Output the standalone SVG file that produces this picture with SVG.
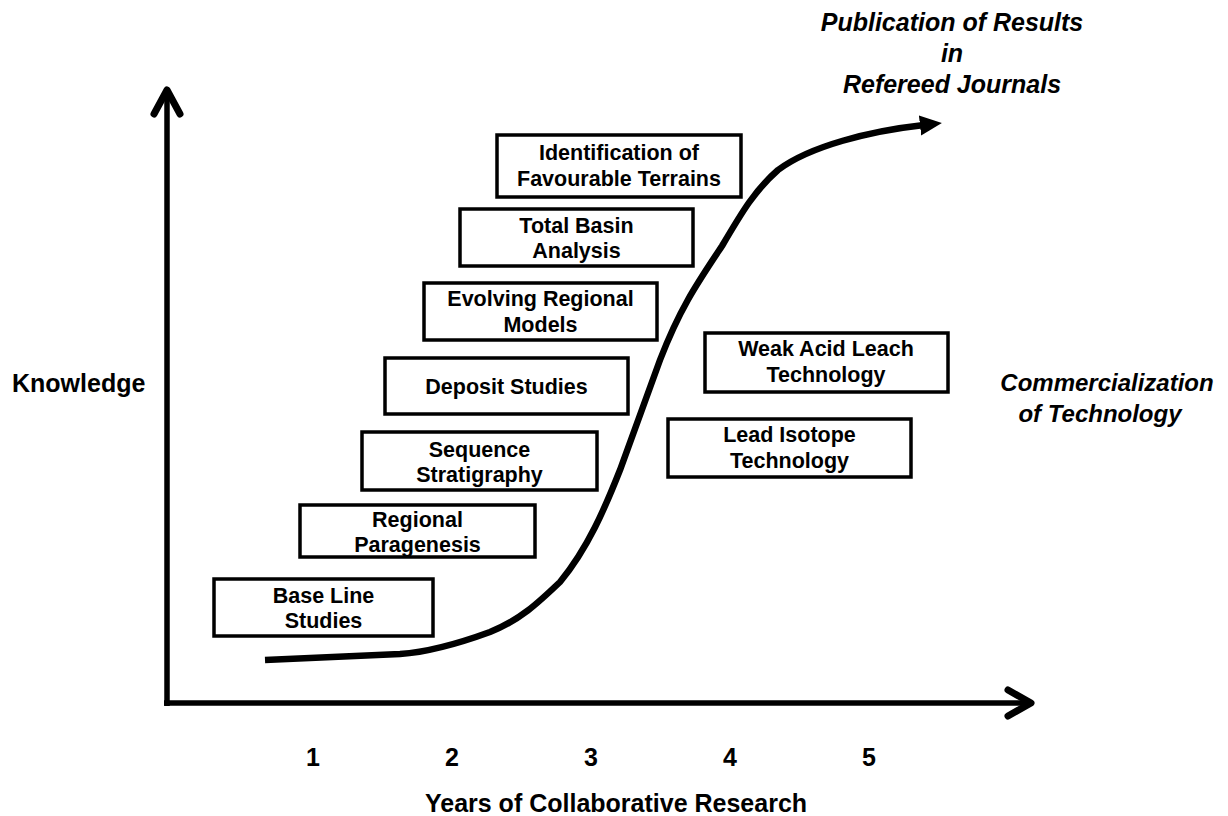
<svg xmlns="http://www.w3.org/2000/svg" width="1228" height="816" viewBox="0 0 1228 816">
<style>
.box{fill:#fff;stroke:#000;stroke-width:3.5}
.bt{font-family:"Liberation Sans",Arial,sans-serif;font-weight:bold;font-size:21.5px;text-anchor:middle;fill:#000}
.lab{font-family:"Liberation Sans",Arial,sans-serif;font-weight:bold;font-size:25px;fill:#000}
.it{font-family:"Liberation Sans",Arial,sans-serif;font-weight:bold;font-style:italic;font-size:24px;text-anchor:middle;fill:#000}
.pub{font-size:25px}
.axis{fill:none;stroke:#000;stroke-width:5.5}
.head{fill:none;stroke:#000;stroke-width:7;stroke-linecap:round;stroke-linejoin:round}
.curve{fill:none;stroke:#000;stroke-width:6.5}
</style>
<defs>
<marker id="tri" markerUnits="userSpaceOnUse" markerWidth="24" markerHeight="24" refX="4" refY="10" orient="auto" viewBox="0 0 24 20">
<path d="M0,0 L22,10 L0,20 Z" fill="#000"/>
</marker>
</defs>
<rect width="1228" height="816" fill="#fff"/>
<g id="connectors">
<line class="axis" x1="167" y1="92" x2="167" y2="706"/>
<polyline class="head" points="154,114 167,90 180,114"/>
<line class="axis" x1="164" y1="703" x2="1030" y2="703"/>
<polyline class="head" points="1008,690 1031,703 1008,716"/>
<path class="curve" marker-end="url(#tri)" d="M265,660 L400,654 C430,652 460,643 490,632 C520,620 538,603 560,582 C588,548 605,508 620,470 L660,360 C680,308 698,282 722,246 C742,212 755,190 778,170 C810,146 870,131 924,125"/>
</g>
<g id="n-baseline"><rect class="box" x="214" y="579" width="219" height="57"/><text class="bt" x="323.5" y="603">Base Line</text><text class="bt" x="323.5" y="628">Studies</text></g>
<g id="n-paragenesis"><rect class="box" x="300" y="505" width="235" height="52"/><text class="bt" x="417.5" y="527">Regional</text><text class="bt" x="417.5" y="552">Paragenesis</text></g>
<g id="n-sequence"><rect class="box" x="362" y="432" width="235" height="58"/><text class="bt" x="479.5" y="457">Sequence</text><text class="bt" x="479.5" y="482">Stratigraphy</text></g>
<g id="n-deposit"><rect class="box" x="385" y="358" width="243" height="56"/><text class="bt" x="506.5" y="394">Deposit Studies</text></g>
<g id="n-evolving"><rect class="box" x="424" y="283" width="233" height="57"/><text class="bt" x="540.5" y="306">Evolving Regional</text><text class="bt" x="540.5" y="332">Models</text></g>
<g id="n-basin"><rect class="box" x="460" y="209" width="233" height="57"/><text class="bt" x="576.5" y="233">Total Basin</text><text class="bt" x="576.5" y="258">Analysis</text></g>
<g id="n-identification"><rect class="box" x="497" y="135" width="244" height="62"/><text class="bt" x="619" y="160">Identification of</text><text class="bt" x="619" y="186">Favourable Terrains</text></g>
<g id="n-weakacid"><rect class="box" x="705" y="333" width="243" height="59"/><text class="bt" x="826" y="356">Weak Acid Leach</text><text class="bt" x="826" y="382">Technology</text></g>
<g id="n-leadisotope"><rect class="box" x="668" y="419" width="243" height="58"/><text class="bt" x="789.5" y="442">Lead Isotope</text><text class="bt" x="789.5" y="468">Technology</text></g>
<g id="labels">
<text class="lab" x="12" y="392">Knowledge</text>
<text class="it" x="1107" y="391">Commercialization</text>
<text class="it" x="1100" y="422">of Technology</text>
<text class="it pub" x="952" y="31">Publication of Results</text>
<text class="it pub" x="952" y="62">in</text>
<text class="it pub" x="952" y="93">Refereed Journals</text>
<text class="lab" x="313" y="766" text-anchor="middle">1</text>
<text class="lab" x="452" y="766" text-anchor="middle">2</text>
<text class="lab" x="591" y="766" text-anchor="middle">3</text>
<text class="lab" x="730" y="766" text-anchor="middle">4</text>
<text class="lab" x="869" y="766" text-anchor="middle">5</text>
<text class="lab" x="616" y="812" text-anchor="middle">Years of Collaborative Research</text>
</g>
</svg>
